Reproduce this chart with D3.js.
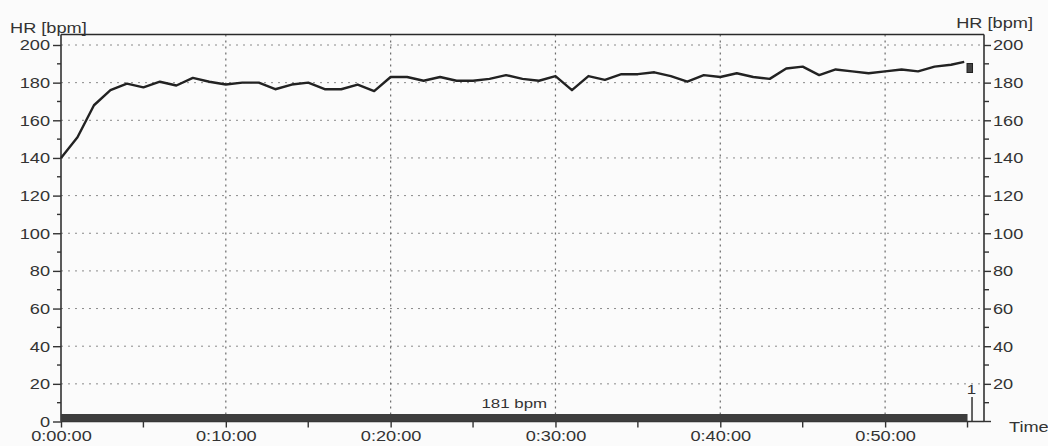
<!DOCTYPE html>
<html><head><meta charset="utf-8">
<script src="https://cdn.jsdelivr.net/npm/d3@7"></script>
<style>
html,body{margin:0;padding:0;background:#fbfbfb;}
svg{display:block;}
text{font-family:"Liberation Sans",Arial,sans-serif;fill:#333;}
</style></head>
<body>
<svg id="c" width="1048" height="446"></svg>
<script>
// Data (minutes, bpm)
const times = [0,1,2,3,4,5,6,7,8,9,10,11,12,13,14,15,16,17,18,19,20,21,22,23,24,25,26,27,28,29,30,31,32,33,34,35,36,37,38,39,40,41,42,43,44,45,46,47,48,49,50,51,52,53,54,54.8];
const hr = [140,151,168,176,179.5,177.5,180.5,178.5,182.5,180.5,179,180,180,176.5,179,180,176.5,176.5,179,175.5,183,183,181,183,181,181,182,184,182,181,183.5,176,183.5,181.5,184.5,184.5,185.5,183.5,180.5,184,183,185,183,182,187.5,188.5,184,187,186,185,186,187,186,188.5,189.5,191];
const yTicks = [0,20,40,60,80,100,120,140,160,180,200];
const yMinor = [10,30,50,70,90,110,130,150,170,190];
const xTicks = [0,10,20,30,40,50];
const xMinor = [5,15,25,35,45,55];
const yTitle = "HR [bpm]";
const xTitle = "Time";
const avgLabel = "181 bpm";
const lapEnd = 55;
const lapLabel = "1";

const SX = 1.3; // horizontal stretch of scanned text
const svg = d3.select("#c");
const x = d3.scaleLinear().domain([0,56]).range([61,984]);
const y = d3.scaleLinear().domain([0,200]).range([421.5,45]);
const topY = 34.5;
const fmt = m => "0:" + String(m).padStart(2,"0") + ":00";

// gridlines
svg.append("g").selectAll("line").data(yTicks.filter(d=>d>0)).join("line")
  .attr("x1",x(0)).attr("x2",x(56)).attr("y1",d=>y(d)).attr("y2",d=>y(d))
  .attr("stroke","#8a8a8a").attr("stroke-width",1).attr("stroke-dasharray","2,5");
svg.append("g").selectAll("line").data(xTicks.filter(d=>d>0)).join("line")
  .attr("x1",d=>x(d)).attr("x2",d=>x(d)).attr("y1",topY).attr("y2",y(0))
  .attr("stroke","#6a6a6a").attr("stroke-width",1.2).attr("stroke-dasharray","2,4");

// frame top
svg.append("line").attr("x1",x(0)).attr("x2",x(56)).attr("y1",topY).attr("y2",topY)
  .attr("stroke","#2a2a2a").attr("stroke-width",1.6);

// left axis
const gl = svg.append("g").attr("transform",`translate(${x(0)},0)`)
  .call(d3.axisLeft(y).tickValues(yTicks).tickSize(8).tickSizeOuter(0).tickPadding(0));
gl.select(".domain").remove();
gl.append("line").attr("y1",topY).attr("y2",y(0)).attr("stroke","#333").attr("stroke-width",1.6);
gl.selectAll(".tick line").attr("stroke","#333").attr("stroke-width",1.4);
gl.selectAll(".tick text").attr("font-size",14).attr("x",-11/SX).attr("dy","0.35em")
  .attr("transform",`scale(${SX},1)`).style("font-family","Liberation Sans, Arial, sans-serif").attr("fill","#333");
gl.append("g").selectAll("line").data(yMinor).join("line")
  .attr("x1",-4).attr("x2",0).attr("y1",d=>y(d)).attr("y2",d=>y(d)).attr("stroke","#333").attr("stroke-width",1.4);

// right axis
const gr = svg.append("g").attr("transform",`translate(${x(56)},0)`)
  .call(d3.axisRight(y).tickValues(yTicks.filter(d=>d>0)).tickSize(7).tickSizeOuter(0).tickPadding(0));
gr.select(".domain").remove();
gr.append("line").attr("y1",topY).attr("y2",y(0)).attr("stroke","#333").attr("stroke-width",1.6);
gr.append("line").attr("x1",0).attr("x2",7).attr("y1",y(0)).attr("y2",y(0)).attr("stroke","#333").attr("stroke-width",1.4);
gr.selectAll(".tick line").attr("stroke","#333").attr("stroke-width",1.4);
gr.selectAll(".tick text").attr("font-size",14).attr("x",9/SX).attr("dy","0.35em")
  .attr("transform",`scale(${SX},1)`).style("font-family","Liberation Sans, Arial, sans-serif").attr("fill","#333");
gr.append("g").selectAll("line").data(yMinor).join("line")
  .attr("x1",0).attr("x2",5).attr("y1",d=>y(d)).attr("y2",d=>y(d)).attr("stroke","#333").attr("stroke-width",1.4);

// bottom axis
const gb = svg.append("g").attr("transform",`translate(0,${y(0)})`)
  .call(d3.axisBottom(x).tickValues(xTicks).tickFormat(fmt).tickSize(6).tickSizeOuter(0).tickPadding(0));
gb.select(".domain").remove();
gb.append("line").attr("x1",x(0)).attr("x2",x(56)).attr("stroke","#333").attr("stroke-width",1.6);
gb.selectAll(".tick line").attr("stroke","#333").attr("stroke-width",1.4);
gb.selectAll(".tick text").attr("font-size",14).attr("y",20).attr("dy",0)
  .attr("transform",`scale(${SX},1)`).style("font-family","Liberation Sans, Arial, sans-serif").attr("fill","#333");
gb.append("g").selectAll("line").data(xMinor).join("line")
  .attr("x1",d=>x(d)).attr("x2",d=>x(d)).attr("y1",0).attr("y2",6).attr("stroke","#333").attr("stroke-width",1.4);

// titles
const st = (sel,px,py,anchor,size) => sel.attr("transform",`translate(${px},${py}) scale(${SX},1)`)
  .attr("text-anchor",anchor).attr("font-size",size);
st(svg.append("text").text(yTitle),10,32.5,"start",14);
st(svg.append("text").text(yTitle),1033,27.5,"end",14);
st(svg.append("text").text(xTitle),1009,432,"start",14);

// lap bar
svg.append("rect").attr("x",x(0)).attr("y",414).attr("width",x(lapEnd)-x(0)).attr("height",y(0)-414)
  .attr("fill","#3d3d3d");
st(svg.append("text").text(avgLabel),(x(0)+x(lapEnd))/2,408,"middle",13);
svg.append("line").attr("x1",x(lapEnd)+4.5).attr("x2",x(lapEnd)+4.5).attr("y1",397).attr("y2",y(0))
  .attr("stroke","#333").attr("stroke-width",1.5);
st(svg.append("text").text(lapLabel),x(lapEnd)+4,394,"middle",13);

// HR line
const line = d3.line().x((d,i)=>x(times[i])).y(d=>y(d));
svg.append("path").datum(hr).attr("d",line).attr("fill","none")
  .attr("stroke","#222").attr("stroke-width",2.4).attr("stroke-linejoin","round");

// marker at end of line
svg.append("rect").attr("x",x(lapEnd)-0.5).attr("y",63.5).attr("width",5.5).attr("height",9)
  .attr("fill","#444").attr("stroke","#222").attr("stroke-width",1);
</script>
</body></html>
